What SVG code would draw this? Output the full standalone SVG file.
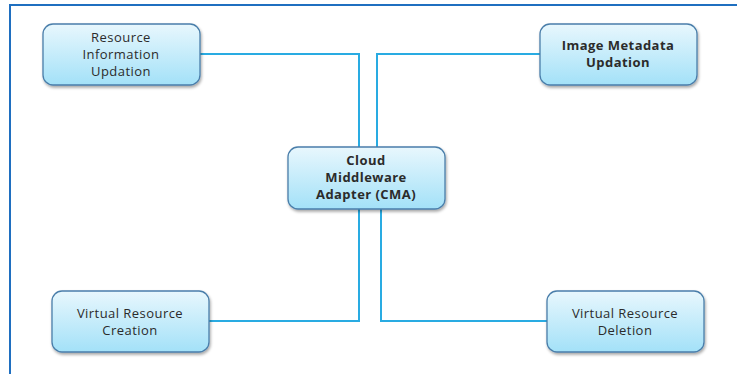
<svg xmlns="http://www.w3.org/2000/svg" width="737" height="374" viewBox="0 0 737 374">
<defs>
<linearGradient id="g" x1="0" y1="0" x2="0" y2="1">
<stop offset="0" stop-color="#e8f7fd"/>
<stop offset="1" stop-color="#a3e1f8"/>
</linearGradient>
<filter id="sh" x="-10%" y="-10%" width="130%" height="140%">
<feGaussianBlur in="SourceAlpha" stdDeviation="1.5"/>
<feOffset dx="1" dy="2" result="b"/>
<feComponentTransfer><feFuncA type="linear" slope="0.35"/></feComponentTransfer>
<feMerge><feMergeNode/><feMergeNode in="SourceGraphic"/></feMerge>
</filter>
</defs>
<style>
.box{fill:url(#g);stroke:#4a7eaa;stroke-width:1.3;filter:url(#sh)}
.t{font-family:"Open Sans","Liberation Sans",sans-serif;font-size:13px;letter-spacing:0.45px;fill:#2b2b2b;text-anchor:middle}
.b{font-weight:bold}
.c{fill:none;stroke:#29abe2;stroke-width:2}
.frame{fill:none;stroke:#1f6fc0;stroke-width:2}
</style>
<rect width="737" height="374" fill="#ffffff"/>
<path class="frame" d="M10,374 V5 H737"/>
<g id="connectors">
<path class="c" d="M200,54 H359 V147"/>
<path class="c" d="M540,54 H377 V147"/>
<path class="c" d="M359,209 V321 H209"/>
<path class="c" d="M381,209 V321 H547"/>
</g>
<g id="n1">
<rect class="box" x="43" y="24" width="157" height="61" rx="10"/>
<text class="t" x="121" y="42">Resource</text>
<text class="t" x="121" y="59">Information</text>
<text class="t" x="121" y="76">Updation</text>
</g>
<g id="n2">
<rect class="box" x="540" y="24" width="157" height="61" rx="10"/>
<text class="t b" x="618" y="50">Image Metadata</text>
<text class="t b" x="618" y="67">Updation</text>
</g>
<g id="cma">
<rect class="box" x="288" y="147" width="157" height="62" rx="10"/>
<text class="t b" x="366" y="165">Cloud</text>
<text class="t b" x="366" y="182">Middleware</text>
<text class="t b" x="366" y="199">Adapter (CMA)</text>
</g>
<g id="n4">
<rect class="box" x="52" y="291" width="157" height="61" rx="10"/>
<text class="t" x="130" y="318">Virtual Resource</text>
<text class="t" x="130" y="335">Creation</text>
</g>
<g id="n5">
<rect class="box" x="547" y="291" width="157" height="61" rx="10"/>
<text class="t" x="625" y="318">Virtual Resource</text>
<text class="t" x="625" y="335">Deletion</text>
</g>
</svg>
